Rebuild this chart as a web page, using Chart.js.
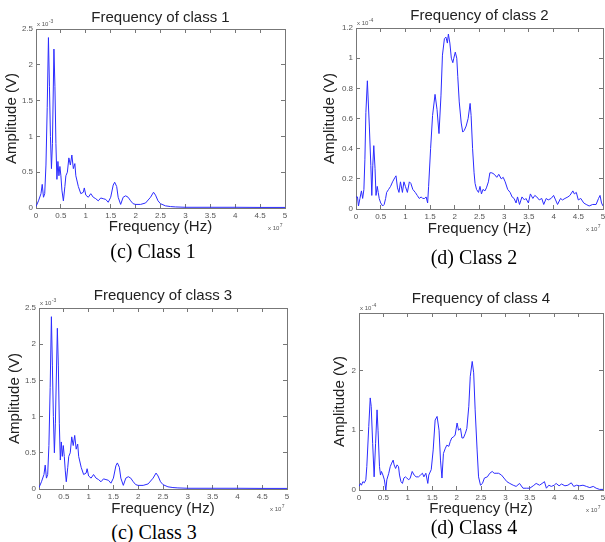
<!DOCTYPE html>
<html>
<head>
<meta charset="utf-8">
<script src="https://cdn.jsdelivr.net/npm/chart.js@4/dist/chart.umd.min.js"></script>
<style>
  body { margin: 0; background: #fff; width: 605px; height: 542px; position: relative; overflow: hidden; }
  canvas { position: absolute; }
  .cap { position: absolute; font-family: "Liberation Serif", serif; font-size: 20px; color: #000;
         transform: translate(-50%, -50%); white-space: nowrap; }
</style>
</head>
<body>
<canvas id="c1" width="300" height="240" style="left:0;top:0"></canvas>
<canvas id="c2" width="305" height="245" style="left:300px;top:0"></canvas>
<canvas id="c3" width="300" height="250" style="left:0;top:270px"></canvas>
<canvas id="c4" width="305" height="250" style="left:300px;top:270px"></canvas>
<div class="cap" style="left:153px;top:251px">(c) Class 1</div>
<div class="cap" style="left:474px;top:257px">(d) Class 2</div>
<div class="cap" style="left:154px;top:532px">(c) Class 3</div>
<div class="cap" style="left:474px;top:527px">(d) Class 4</div>
<script>
// frequency in units of 10^7 Hz, amplitude in units of 10^-3 V (class 1, 3) or 10^-4 V (class 2, 4)
const xTicks = [0, 0.5, 1, 1.5, 2, 2.5, 3, 3.5, 4, 4.5, 5];
const yTicks1 = [0, 0.5, 1, 1.5, 2, 2.5];
const yTicks2 = [0, 0.2, 0.4, 0.6, 0.8, 1, 1.2];
const yTicks3 = [0, 0.5, 1, 1.5, 2, 2.5];
const yTicks4 = [0, 1, 2];

const freq1 = [0, 0.05, 0.1, 0.125, 0.15, 0.175, 0.2, 0.225, 0.25, 0.27,
  0.29, 0.31, 0.33, 0.36, 0.38, 0.4, 0.42, 0.44, 0.46, 0.48,
  0.5, 0.52, 0.55, 0.58, 0.6, 0.63, 0.66, 0.69, 0.72, 0.75,
  0.78, 0.8, 0.85, 0.9, 0.95, 0.97, 1.0, 1.05, 1.1, 1.15,
  1.2, 1.25, 1.3, 1.35, 1.4, 1.45, 1.5, 1.55, 1.58, 1.62,
  1.65, 1.7, 1.75, 1.8, 1.85, 1.9, 1.95, 2.0, 2.1, 2.2,
  2.3, 2.36, 2.4, 2.45, 2.5, 2.6, 2.7, 2.8, 3.0, 3.5,
  4.0, 4.5, 5.0];
const amp1 = [0.02, 0.1, 0.2, 0.33, 0.15, 0.2, 0.6, 1.4, 2.38, 1.7,
  1.0, 0.55, 0.9, 2.22, 1.7, 0.9, 0.4, 0.65, 0.45, 0.58,
  0.45, 0.25, 0.1, 0.3, 0.45, 0.5, 0.7, 0.6, 0.74, 0.55,
  0.62, 0.45, 0.3, 0.2, 0.22, 0.28, 0.18, 0.15, 0.2, 0.15,
  0.13, 0.1, 0.14, 0.13, 0.12, 0.08, 0.15, 0.32, 0.36, 0.3,
  0.15, 0.05, 0.15, 0.17, 0.15, 0.1, 0.06, 0.05, 0.05, 0.07,
  0.15, 0.22, 0.18, 0.1, 0.06, 0.03, 0.02, 0.015, 0.01, 0.01,
  0.01, 0.008, 0.008];

const freq2 = [0, 0.03, 0.05, 0.08, 0.11, 0.135, 0.16, 0.18, 0.2, 0.23,
  0.27, 0.3, 0.32, 0.34, 0.36, 0.385, 0.405, 0.43, 0.45, 0.47,
  0.5, 0.54, 0.57, 0.6, 0.62, 0.66, 0.7, 0.74, 0.79, 0.81,
  0.84, 0.87, 0.9, 0.94, 0.97, 1.0, 1.04, 1.08, 1.11, 1.15,
  1.2, 1.24, 1.28, 1.32, 1.35, 1.39, 1.42, 1.45, 1.47, 1.51,
  1.55, 1.6, 1.64, 1.68, 1.72, 1.75, 1.79, 1.82, 1.85, 1.87,
  1.9, 1.93, 1.96, 1.98, 2.01, 2.04, 2.06, 2.09, 2.13, 2.16,
  2.19, 2.23, 2.27, 2.31, 2.33, 2.36, 2.39, 2.41, 2.44, 2.48,
  2.51, 2.54, 2.57, 2.61, 2.64, 2.68, 2.71, 2.75, 2.8, 2.85,
  2.89, 2.94, 2.98, 3.02, 3.07, 3.12, 3.16, 3.2, 3.24, 3.27,
  3.31, 3.36, 3.41, 3.44, 3.49, 3.53, 3.58, 3.62, 3.66, 3.71,
  3.76, 3.8, 3.85, 3.89, 3.95, 4.0, 4.04, 4.08, 4.14, 4.18,
  4.23, 4.29, 4.33, 4.39, 4.42, 4.46, 4.5, 4.55, 4.61, 4.66,
  4.72, 4.79, 4.86, 4.91, 4.94, 4.97, 5.0];
const amp2 = [0.08, 0.08, 0.02, 0.07, 0.12, 0.07, 0.13, 0.33, 0.64, 0.85,
  0.55, 0.29, 0.09, 0.29, 0.42, 0.27, 0.09, 0.15, 0.11, 0.07,
  0.04, 0.02, 0.03, 0.07, 0.11, 0.13, 0.15, 0.18, 0.21, 0.22,
  0.14, 0.11, 0.18, 0.11, 0.18, 0.15, 0.11, 0.18, 0.17, 0.13,
  0.11, 0.09, 0.07, 0.08, 0.07, 0.07, 0.08, 0.04, 0.15, 0.4,
  0.62, 0.76, 0.66, 0.5, 0.75, 1.02, 1.13, 1.14, 1.1, 1.16,
  1.1, 1.0, 0.97, 1.0, 1.04, 1.0, 0.88, 0.71, 0.57, 0.51,
  0.52, 0.55, 0.6, 0.7, 0.62, 0.4, 0.24, 0.17, 0.13, 0.11,
  0.15, 0.1, 0.13, 0.12, 0.14, 0.18, 0.24, 0.24, 0.23, 0.21,
  0.23, 0.2, 0.21, 0.18, 0.13, 0.11, 0.08, 0.07, 0.04, 0.08,
  0.03, 0.08, 0.06, 0.07, 0.04, 0.1, 0.07, 0.09, 0.08, 0.06,
  0.07, 0.03, 0.07, 0.06, 0.07, 0.09, 0.06, 0.03, 0.07, 0.06,
  0.07, 0.08, 0.09, 0.12, 0.1, 0.11, 0.06, 0.07, 0.04, 0.03,
  0.02, 0.03, 0.03, 0.07, 0.09, 0.04, 0.02];

const freq3 = [0, 0.05, 0.1, 0.125, 0.15, 0.175, 0.2, 0.225, 0.25, 0.27,
  0.29, 0.31, 0.33, 0.37, 0.39, 0.41, 0.43, 0.45, 0.47, 0.49,
  0.51, 0.53, 0.55, 0.58, 0.6, 0.63, 0.66, 0.69, 0.72, 0.75,
  0.78, 0.8, 0.85, 0.9, 0.95, 0.97, 1.0, 1.05, 1.1, 1.15,
  1.2, 1.25, 1.3, 1.35, 1.4, 1.45, 1.5, 1.55, 1.58, 1.62,
  1.65, 1.7, 1.75, 1.8, 1.85, 1.9, 1.95, 2.0, 2.1, 2.2,
  2.3, 2.36, 2.4, 2.45, 2.5, 2.6, 2.7, 2.8, 3.0, 3.5,
  4.0, 4.5, 5.0];
const amp3 = [0.02, 0.1, 0.2, 0.33, 0.15, 0.2, 0.6, 1.4, 2.38, 1.7,
  1.0, 0.5, 0.9, 2.22, 1.7, 0.9, 0.4, 0.65, 0.45, 0.6,
  0.45, 0.25, 0.1, 0.3, 0.45, 0.5, 0.72, 0.6, 0.74, 0.55,
  0.62, 0.45, 0.3, 0.2, 0.22, 0.28, 0.18, 0.15, 0.2, 0.15,
  0.13, 0.1, 0.14, 0.13, 0.12, 0.08, 0.15, 0.32, 0.36, 0.3,
  0.15, 0.05, 0.15, 0.17, 0.15, 0.1, 0.06, 0.05, 0.05, 0.07,
  0.15, 0.22, 0.18, 0.1, 0.06, 0.03, 0.02, 0.015, 0.01, 0.01,
  0.01, 0.008, 0.008];

const freq4 = [0, 0.03, 0.05, 0.08, 0.11, 0.14, 0.16, 0.2, 0.23, 0.25,
  0.28, 0.31, 0.34, 0.37, 0.39, 0.42, 0.44, 0.46, 0.49, 0.52,
  0.55, 0.57, 0.61, 0.64, 0.67, 0.7, 0.72, 0.75, 0.78, 0.81,
  0.83, 0.86, 0.89, 0.92, 0.95, 0.98, 1.02, 1.05, 1.09, 1.13,
  1.17, 1.22, 1.26, 1.3, 1.33, 1.37, 1.41, 1.43, 1.48, 1.52,
  1.56, 1.6, 1.64, 1.67, 1.7, 1.73, 1.77, 1.8, 1.84, 1.87,
  1.9, 1.94, 1.97, 2.01, 2.04, 2.08, 2.11, 2.14, 2.18, 2.21,
  2.25, 2.28, 2.32, 2.35, 2.38, 2.42, 2.45, 2.49, 2.53, 2.57,
  2.63, 2.68, 2.73, 2.77, 2.81, 2.86, 2.92, 2.97, 3.03, 3.09,
  3.16, 3.22, 3.29, 3.36, 3.43, 3.5, 3.57, 3.63, 3.7, 3.77,
  3.8, 3.84, 3.89, 3.94, 4.0, 4.04, 4.1, 4.15, 4.22, 4.28,
  4.35, 4.4, 4.46, 4.52, 4.59, 4.66, 4.73, 4.8, 4.86, 4.93,
  5.0];
const amp4 = [0.06, 0.11, 0.08, 0.14, 0.12, 0.17, 0.39, 1.06, 1.54, 1.4,
  0.78, 0.22, 0.78, 1.34, 1.0, 0.39, 0.25, 0.31, 0.25, 0.17,
  0.0, 0.17, 0.28, 0.39, 0.45, 0.5, 0.42, 0.36, 0.42, 0.39,
  0.25, 0.14, 0.11, 0.2, 0.22, 0.2, 0.17, 0.2, 0.31, 0.25,
  0.22, 0.22, 0.25, 0.28, 0.22, 0.28, 0.11, 0.25, 0.34, 0.67,
  1.17, 1.23, 1.0, 0.5, 0.2, 0.61, 0.7, 0.75, 0.73, 0.81,
  0.87, 0.89, 0.92, 1.12, 1.0, 1.03, 0.87, 0.87, 0.95, 1.03,
  1.4, 1.9, 2.15, 1.96, 1.34, 0.67, 0.22, 0.08, 0.11, 0.2,
  0.22, 0.28, 0.31, 0.28, 0.28, 0.28, 0.25, 0.2, 0.14, 0.11,
  0.08, 0.06, 0.11, 0.03, 0.03, 0.03, 0.07, 0.11, 0.08, 0.12,
  0.14, 0.03, 0.08, 0.06, 0.08, 0.11, 0.07, 0.1, 0.07, 0.08,
  0.12, 0.06, 0.08, 0.07, 0.08, 0.06, 0.04, 0.06, 0.03, 0.01,
  0.01];

const FONT = '"Liberation Sans", Arial, sans-serif';
const AXIS = '#777';

// small "x 10^n" multipliers, like MATLAB puts them
const expPlugin = {
  id: 'exp',
  afterDraw(chart, args, opts) {
    const { ctx, chartArea: a } = chart;
    ctx.save();
    ctx.fillStyle = '#555';
    drawExp(ctx, a.left + 1, a.top - 3, opts.y);
    drawExp(ctx, a.right - 17, a.bottom + 22, opts.x);
    ctx.restore();
  }
};

function drawExp(ctx, x, y, p) {
  ctx.textAlign = 'left';
  ctx.textBaseline = 'alphabetic';
  ctx.font = '6px ' + FONT;
  ctx.fillText('x 10', x, y);
  const w = ctx.measureText('x 10').width;
  ctx.font = '5px ' + FONT;
  ctx.fillText(p, x + w + 0.5, y - 3);
}

function axis(pos, ticks, max, size, showLabels) {
  const horiz = pos === 'bottom' || pos === 'top';
  return {
    type: 'linear',
    position: pos,
    min: 0,
    max: max,
    afterBuildTicks: s => { s.ticks = ticks.map(v => ({ value: v })); },
    afterFit: s => {
      if (horiz) s.height = size; else s.width = size;
      // the plot box is placed by hand, so edge labels must not push it
      s.paddingLeft = s.paddingRight = s.paddingTop = s.paddingBottom = 0;
    },
    grid: { drawOnChartArea: false, drawTicks: true, tickLength: -4, color: AXIS },
    border: { color: AXIS },
    ticks: { display: showLabels, padding: 7, maxRotation: 0, autoSkip: false,
             color: '#555', font: { size: 8, family: FONT },
             callback: v => String(v) }
  };
}

function makeChart(id, freq, amp, yTicks, yMax, title, yExp, b) {
  const x = axis('bottom', xTicks, 5, b.xH, true);
  x.title = { display: true, text: 'Frequency (Hz)', color: '#222',
              font: { size: 15, family: FONT }, padding: { top: 0, bottom: b.xTitlePad } };
  const y = axis('left', yTicks, yMax, b.yW, true);
  y.title = { display: true, text: 'Amplitude (V)', color: '#222',
              font: { size: 15, family: FONT }, padding: { top: b.yTitlePad, bottom: 0 } };

  new Chart(document.getElementById(id), {
    type: 'line',
    data: {
      datasets: [{
        data: freq.map((f, i) => ({ x: f, y: amp[i] })),
        borderColor: '#2b2bff',
        borderWidth: 1,
        pointRadius: 0,
        tension: 0,
        xAxisID: 'x',
        yAxisID: 'y'
      }]
    },
    options: {
      responsive: false,
      animation: false,
      devicePixelRatio: 1,
      layout: { padding: { left: b.padLeft, right: b.padRight, top: 0, bottom: 0 } },
      scales: {
        x: x,
        x2: axis('top', xTicks, 5, 0, false),
        y: y,
        y2: axis('right', yTicks, yMax, 0, false)
      },
      plugins: {
        legend: { display: false },
        tooltip: { enabled: false },
        title: { display: true, text: title, fullSize: false, color: '#222',
                 font: { size: 15, weight: 'normal', family: FONT },
                 padding: { top: b.tTop, bottom: b.tBot } },
        exp: { y: yExp, x: '7' }
      }
    },
    plugins: [expPlugin]
  });
}

makeChart('c1', freq1, amp1, yTicks1, 2.5, 'Frequency of class 1', '-3',
  { padLeft: 0, padRight: 15, yW: 36, yTitlePad: 3, xH: 32, xTitlePad: 4, tTop: 9, tBot: 2 });
makeChart('c2', freq2, amp2, yTicks2, 1.2, 'Frequency of class 2', '-4',
  { padLeft: 20, padRight: 2, yW: 36, yTitlePad: 1, xH: 36, xTitlePad: 7, tTop: 7, tBot: 3 });
makeChart('c3', freq3, amp3, yTicks3, 2.5, 'Frequency of class 3', '-3',
  { padLeft: 0, padRight: 13, yW: 39, yTitlePad: 6, xH: 31, xTitlePad: 2, tTop: 17, tBot: 3 });
makeChart('c4', freq4, amp4, yTicks4, 2.96, 'Frequency of class 4', '-4',
  { padLeft: 20, padRight: 2, yW: 39, yTitlePad: 11, xH: 30, xTitlePad: 2, tTop: 20, tBot: 5 });
</script>
</body>
</html>
